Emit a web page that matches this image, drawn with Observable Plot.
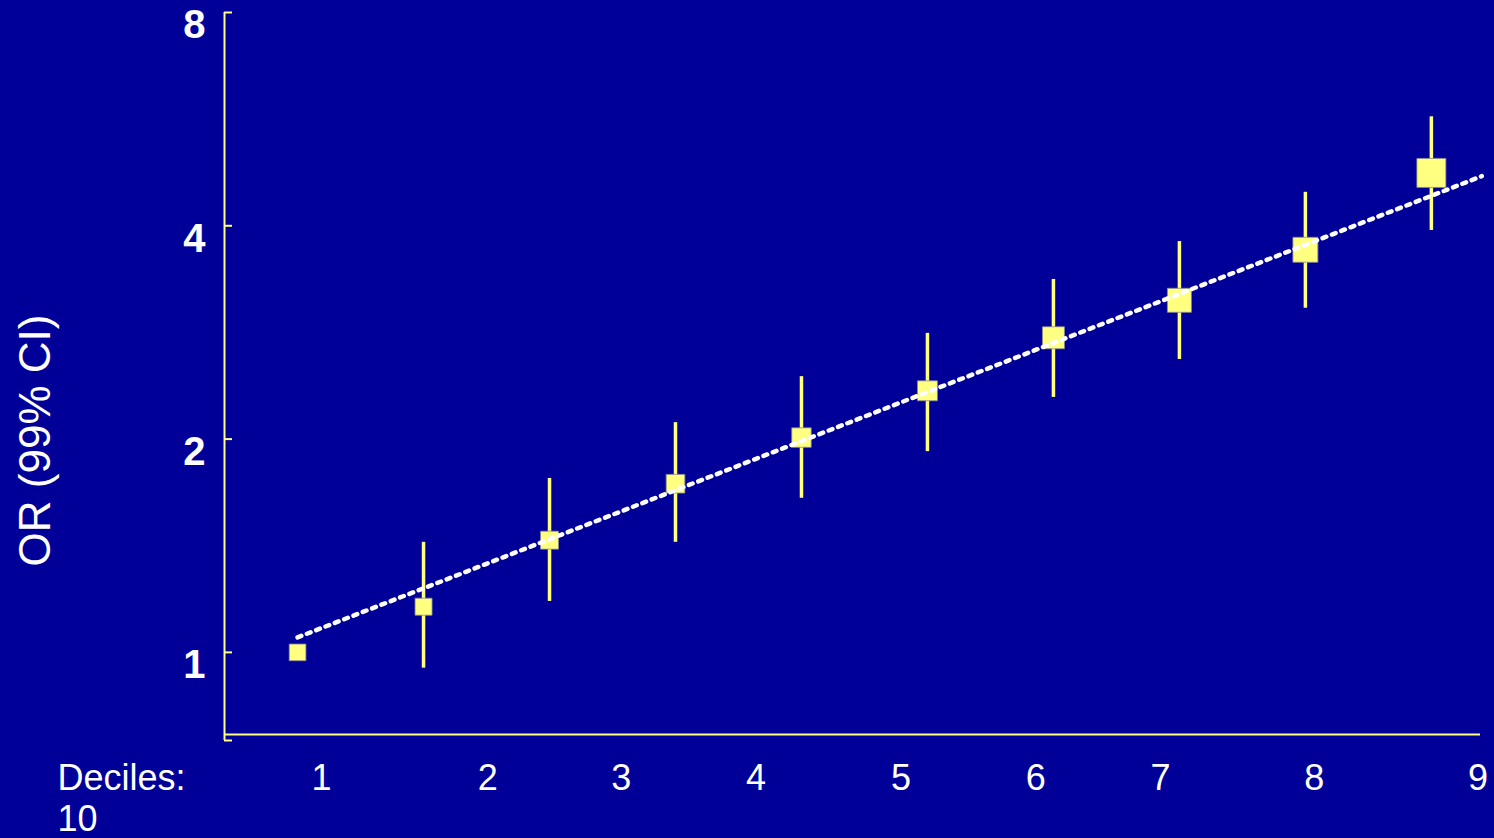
<!DOCTYPE html>
<html>
<head>
<meta charset="utf-8">
<script src="https://cdn.jsdelivr.net/npm/d3@7"></script>
<script src="https://cdn.jsdelivr.net/npm/@observablehq/plot@0.6"></script>
<style>
  html, body { margin: 0; padding: 0; background: #000099; overflow: hidden; }
  #chart svg { display: block; }
</style>
</head>
<body>
<div id="chart"></div>
<script>
// ---- data ----
const deciles = [1, 2, 3, 4, 5, 6, 7, 8, 9, 10];
const oddsRatio = [1.00, 1.16, 1.44, 1.73, 2.01, 2.34, 2.78, 3.14, 3.70, 4.75];
const ciLow  = [null, 0.95, 1.18, 1.43, 1.65, 1.92, 2.29, 2.59, 3.06, 3.94];
const ciHigh = [null, 1.43, 1.76, 2.11, 2.45, 2.82, 3.36, 3.80, 4.46, 5.70];
const weights = [1.00, 1.04, 1.16, 1.25, 1.36, 1.43, 1.74, 2.07, 2.24, 3.02];

const trendX = [1, 10.4];
const trendY = [1.05, 4.70];

const yTickValues = [1, 2, 4, 8];
const xLabelText = ["Deciles:", "1", "2", "3", "4", "5", "6", "7", "8", "9", "10"];
const xLabelPos  = [-0.905, 1.19, 2.51, 3.57, 4.64, 5.79, 6.86, 7.85, 9.07, 10.37, -0.905];
const xLabelLine = [0, 0, 0, 0, 0, 0, 0, 0, 0, 0, 1];
const yTitle = "OR (99% CI)";

// ---- build ----
const rows = deciles.map((d, i) => ({decile: d, or: oddsRatio[i], lo: ciLow[i], hi: ciHigh[i], w: weights[i]}));
const ciRows = rows.filter(r => r.lo != null);
const trend = trendX.map((x, i) => ({x, y: trendY[i]}));
const xLabels = xLabelText.map((t, i) => ({text: t, x: xLabelPos[i], line: xLabelLine[i], anchor: i === 0 || i === 10 ? "start" : "middle"}));

const xDomain = [0.42, 10.39];
const yDomain = [0.751, 8];
const baseY = 0.766;
const yellow = "#ffff80";
const font = "'Liberation Sans', Arial, Helvetica, sans-serif";

const chart = Plot.plot({
  width: 1494,
  height: 838,
  marginLeft: 224,
  marginRight: 14,
  marginTop: 12,
  marginBottom: 98,
  style: {background: "#000099", color: "white", fontFamily: font},
  x: {domain: xDomain, axis: null},
  y: {type: "log", domain: yDomain, axis: null},
  r: {type: "sqrt", domain: [0, 3.02], range: [0, 16.36]},
  marks: [
    // axis lines
    Plot.ruleX([xDomain[0]], {stroke: yellow, strokeWidth: 2}),
    Plot.ruleY([baseY], {stroke: yellow, strokeWidth: 2}),
    // y ticks (inward)
    Plot.axisY({ticks: [yDomain[0], ...yTickValues], tickSize: -8, tickFormat: () => "", stroke: yellow, strokeWidth: 2, label: null}),
    // y tick labels
    Plot.axisY({ticks: yTickValues, tickSize: 0, tickPadding: 19, dy: 13, fontSize: 40, fontWeight: "bold", fill: "white", tickFormat: d => String(d), label: null}),
    // y title
    Plot.text([yTitle], {frameAnchor: "left", dx: -189, dy: 64, rotate: -90, textAnchor: "middle", fontSize: 44, fill: "white", text: d => d}),
    // x labels
    Plot.text(xLabels.filter(d => d.anchor === "middle"), {x: "x", text: "text", frameAnchor: "bottom", dy: 49, fontSize: 36, fill: "white", textAnchor: "middle"}),
    Plot.text(xLabels.filter(d => d.anchor === "start" && d.line === 0), {x: "x", text: "text", frameAnchor: "bottom", dy: 49, fontSize: 36, fill: "white", textAnchor: "start"}),
    Plot.text(xLabels.filter(d => d.anchor === "start" && d.line === 1), {x: "x", text: "text", frameAnchor: "bottom", dy: 90, fontSize: 36, fill: "white", textAnchor: "start"}),
    // error bars
    Plot.ruleX(ciRows, {x: "decile", y1: "lo", y2: "hi", stroke: yellow, strokeWidth: 3.5}),
    // points
    Plot.dot(rows, {x: "decile", y: "or", r: "w", symbol: "square", fill: yellow, stroke: "#8a8a90", strokeWidth: 0.8}),
    // trend line
    Plot.line(trend, {x: "x", y: "y", stroke: "white", strokeWidth: 4.5, strokeDasharray: "4,6", clip: false})
  ]
});

document.getElementById("chart").appendChild(chart);
</script>
</body>
</html>
